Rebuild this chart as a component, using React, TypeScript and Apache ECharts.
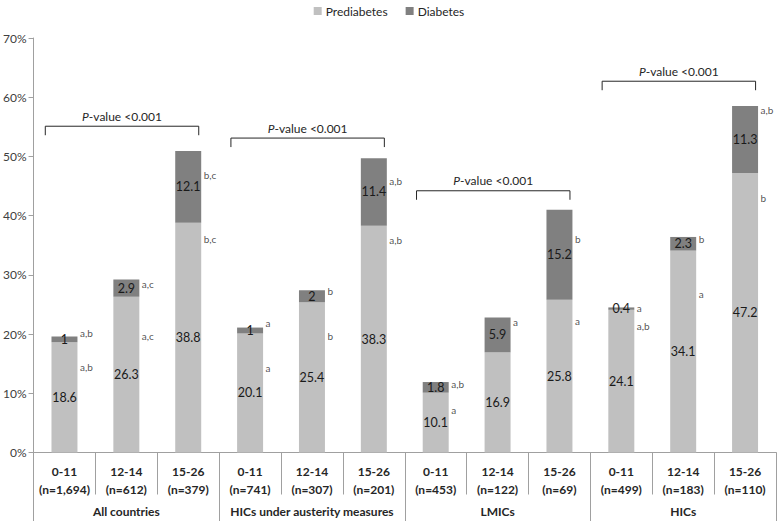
import React, { useEffect, useRef } from "react";
import * as echarts from "echarts";

const ageGroups = ["0-11", "12-14", "15-26", "0-11", "12-14", "15-26", "0-11", "12-14", "15-26", "0-11", "12-14", "15-26"];
const sampleSizes = ["n=1,694", "n=612", "n=379", "n=741", "n=307", "n=201", "n=453", "n=122", "n=69", "n=499", "n=183", "n=110"];
const countryGroups = ["All countries", "HICs under austerity measures", "LMICs", "HICs"];

const prediabetes = [18.6, 26.3, 38.8, 20.1, 25.4, 38.3, 10.1, 16.9, 25.8, 24.1, 34.1, 47.2];
const diabetes = [1, 2.9, 12.1, 1, 2, 11.4, 1.8, 5.9, 15.2, 0.4, 2.3, 11.3];

// significance letters (upper = next to the diabetes segment, lower = next to the prediabetes segment)
const upperLetters = ["a,b", "a,c", "b,c", "a", "b", "a,b", "a,b", "a", "b", "a", "b", "a,b"];
const upperLetterLevels = [20.2, 28.5, 46.9, 21.9, 27.2, 45.8, 11.5, 22.0, 36.0, 24.4, 36.0, 57.9];
const lowerLetters = ["a,b", "a,c", "b,c", "a", "b", "a,b", "a", "", "a", "a,b", "a", "b"];
const lowerLetterLevels = [14.5, 19.7, 36.0, 14.3, 19.7, 35.9, 7.2, 0, 22.2, 21.4, 26.8, 43.0];

// P-value brackets: first category index, last category index, bracket level (%)
const bracketStart = [0, 3, 6, 9];
const bracketEnd = [2, 5, 8, 11];
const bracketLevels = [55.1, 53.1, 44.2, 62.7];
const bracketText = "{i|P}-value <0.001";

const FONT = "Lato, 'Noto Sans', sans-serif";
const GRAY_AXIS = "#a0a0a0";

export default function App() {
  const ref = useRef<HTMLDivElement>(null);

  useEffect(() => {
    if (!ref.current) return;
    const chart = echarts.init(ref.current, undefined, { renderer: "svg" });
    const categories = ageGroups.map((a, i) => a + "\n(" + sampleSizes[i] + ")");

    const option: any = {
      animation: false,
      textStyle: { fontFamily: FONT },
      legend: {
        top: 0,
        left: "center",
        itemWidth: 8,
        itemHeight: 8,
        itemGap: 18,
        icon: "rect",
        textStyle: { fontFamily: FONT, fontSize: 12, color: "#262626", padding: [0, 0, 0, -1] },
        data: ["Prediabetes", "Diabetes"],
      },
      grid: { left: 33, right: 2, top: 38, bottom: 68.5, containLabel: false },
      xAxis: [
        {
          type: "category",
          data: categories,
          position: "bottom",
          axisLine: { show: true, lineStyle: { color: GRAY_AXIS, width: 1 } },
          axisTick: { show: true, interval: 0, length: 42, lineStyle: { color: GRAY_AXIS } },
          axisLabel: {
            interval: 0,
            margin: 10,
            fontFamily: FONT,
            fontSize: 12,
            fontWeight: "bold",
            color: "#262626",
            lineHeight: 18,
          },
        },
        {
          type: "category",
          data: countryGroups,
          position: "bottom",
          axisLine: { show: false },
          axisTick: { show: true, interval: 0, length: 69, lineStyle: { color: GRAY_AXIS } },
          axisLabel: {
            interval: 0,
            margin: 53,
            fontFamily: FONT,
            fontSize: 12,
            fontWeight: "bold",
            color: "#262626",
          },
        },
      ],
      yAxis: {
        type: "value",
        min: 0,
        max: 70,
        interval: 10,
        axisLine: { show: true, lineStyle: { color: GRAY_AXIS } },
        axisTick: { show: true, length: 5, lineStyle: { color: GRAY_AXIS } },
        splitLine: { show: false },
        axisLabel: { formatter: "{value}%", fontFamily: FONT, fontSize: 12, color: "#404040", margin: 7 },
      },
      series: [
        {
          name: "Prediabetes",
          type: "bar",
          stack: "total",
          barWidth: "42%",
          data: prediabetes,
          itemStyle: { color: "#c0c0c0" },
          label: { show: true, position: "inside", color: "#1a1a1a", fontFamily: FONT, fontSize: 12.5 },
        },
        {
          name: "Diabetes",
          type: "bar",
          stack: "total",
          barWidth: "42%",
          data: diabetes,
          itemStyle: { color: "#808080" },
          label: { show: true, position: "inside", color: "#1a1a1a", fontFamily: FONT, fontSize: 12.5 },
        },
        {
          name: "upperLetters",
          type: "scatter",
          symbolSize: 1,
          itemStyle: { color: "rgba(0,0,0,0)" },
          data: upperLetterLevels.map((v, i) => [i, v]),
          label: {
            show: true,
            position: "right",
            distance: 15,
            color: "#262626",
            fontFamily: FONT,
            fontSize: 10,
            formatter: (p: any) => upperLetters[p.dataIndex],
          },
          silent: true,
        },
        {
          name: "lowerLetters",
          type: "scatter",
          symbolSize: 1,
          itemStyle: { color: "rgba(0,0,0,0)" },
          data: lowerLetterLevels.map((v, i) => [i, v]),
          label: {
            show: true,
            position: "right",
            distance: 15,
            color: "#262626",
            fontFamily: FONT,
            fontSize: 10,
            formatter: (p: any) => lowerLetters[p.dataIndex],
          },
          silent: true,
        },
        {
          name: "brackets",
          type: "custom",
          silent: true,
          encode: { x: [0, 1], y: 2 },
          data: bracketLevels.map((v, i) => [bracketStart[i], bracketEnd[i], v]),
          renderItem: (params: any, api: any) => {
            const s = api.value(0);
            const e = api.value(1);
            const y = api.value(2);
            const band = api.size([1, 0])[0];
            const p1 = api.coord([s, y]);
            const p2 = api.coord([e, y]);
            const x1 = p1[0] - 0.31 * band;
            const x2 = p2[0] + 0.17 * band;
            const yy = p1[1];
            return {
              type: "group",
              children: [
                {
                  type: "polyline",
                  shape: { points: [[x1, yy + 9], [x1, yy], [x2, yy], [x2, yy + 9]] },
                  style: { stroke: "#262626", lineWidth: 1, fill: "none" },
                },
                {
                  type: "text",
                  style: {
                    text: bracketText,
                    x: (x1 + x2) / 2,
                    y: yy - 10,
                    align: "center",
                    verticalAlign: "middle",
                    fill: "#262626",
                    fontFamily: FONT,
                    fontSize: 12,
                    rich: { i: { fontStyle: "italic", fontFamily: FONT, fontSize: 12, fill: "#262626" } },
                  },
                },
              ],
            };
          },
        },
      ],
    };
    chart.setOption(option);
    return () => chart.dispose();
  }, []);

  return <div ref={ref} style={{ width: 778, height: 521, position: "absolute", left: 0, top: 0 }} />;
}
